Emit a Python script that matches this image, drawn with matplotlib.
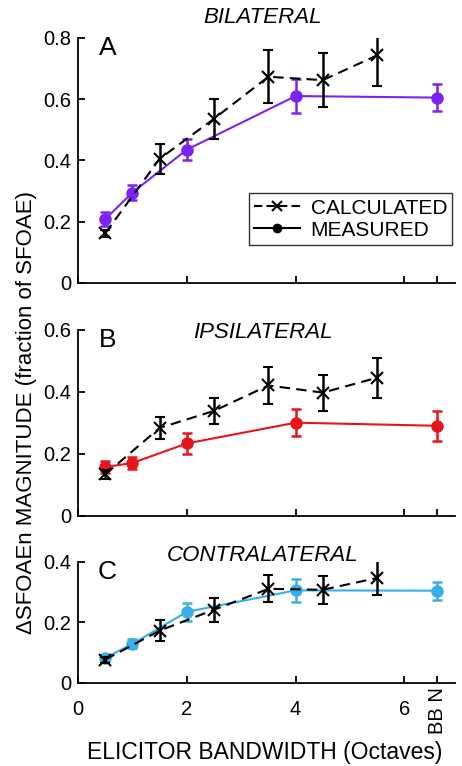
import matplotlib.pyplot as plt
from matplotlib.lines import Line2D

plt.rcParams['font.family'] = ['Liberation Sans', 'DejaVu Sans']

BBN = 6.6

# calculated (black, dashed)
calc_x = [0.5, 1.5, 2.5, 3.5, 4.5, 5.5]
calc_bi = [0.162, 0.405, 0.536, 0.673, 0.662, 0.743]
calc_bi_err = [0.012, 0.05, 0.065, 0.087, 0.087, 0.1]
calc_ip = [0.134, 0.284, 0.339, 0.421, 0.398, 0.446]
calc_ip_err = [0.015, 0.035, 0.042, 0.06, 0.058, 0.065]
calc_co = [0.077, 0.173, 0.242, 0.311, 0.308, 0.347]
calc_co_err = [0.01, 0.034, 0.04, 0.045, 0.047, 0.055]

# measured (coloured, solid)
meas_x = [0.5, 1.0, 2.0, 4.0, BBN]
meas_bi = [0.208, 0.295, 0.435, 0.610, 0.605]
meas_bi_err = [0.022, 0.025, 0.035, 0.055, 0.043]
meas_ip = [0.158, 0.171, 0.234, 0.301, 0.291]
meas_ip_err = [0.02, 0.02, 0.033, 0.044, 0.048]
meas_co = [0.083, 0.129, 0.235, 0.306, 0.305]
meas_co_err = [0.01, 0.015, 0.03, 0.038, 0.03]

panels = [
    ('A', 'BILATERAL', calc_bi, calc_bi_err, meas_bi, meas_bi_err, '#7b22f5',
     [0.1688, 0.6306, 0.816, 0.320], 0.8, [0, 0.2, 0.4, 0.6, 0.8], 15),
    ('B', 'IPSILATERAL', calc_ip, calc_ip_err, meas_ip, meas_ip_err, '#e8141b',
     [0.1688, 0.3264, 0.816, 0.2428], 0.6, [0, 0.2, 0.4, 0.6], -2),
    ('C', 'CONTRALATERAL', calc_co, calc_co_err, meas_co, meas_co_err, '#3aaee8',
     [0.1688, 0.1084, 0.816, 0.158], 0.4, [0, 0.2, 0.4], 4.5),
]

fig = plt.figure(figsize=(4.62, 7.66), dpi=100)

for letter, title, cy, ce, my, me, col, rect, ymax, yt, toff in panels:
    ax = fig.add_axes(rect)
    ax.errorbar(meas_x, my, yerr=me, color=col, ecolor=col, lw=1.5, elinewidth=1.8,
                capsize=3.5, capthick=1.8, marker='o', ms=8, zorder=3)
    ax.errorbar(calc_x, cy, yerr=ce, color='black', lw=1.5, ls=(0, (5, 3)),
                elinewidth=1.8, capsize=3.5, capthick=1.8, marker='x', ms=8,
                mew=1.5, zorder=4)
    ax.set_xlim(0, 6.93)
    ax.set_ylim(0, ymax)
    ax.set_yticks(yt)
    ax.set_yticklabels(['0' if v == 0 else f'{v:.1f}' for v in yt])
    ax.set_xticks([0, 2, 4, 6, BBN])
    ax.spines['top'].set_visible(False)
    ax.spines['right'].set_visible(False)
    ax.spines['left'].set_linewidth(1.3)
    ax.spines['bottom'].set_linewidth(1.3)
    ax.tick_params(direction='in', length=5, width=1.3, labelsize=14.5)
    ax.tick_params(axis='y', pad=5)
    ax.tick_params(axis='x', pad=12)
    if letter == 'C':
        ax.set_xticklabels(['0', '2', '4', '6', ''])
        ax.annotate('BB N', (BBN, 0), xycoords=('data', 'axes fraction'),
                    xytext=(0, -3), textcoords='offset points', rotation=90,
                    fontsize=14.5, ha='center', va='top')
    else:
        ax.set_xticklabels([])
    ax.annotate(letter, (0.078, 1.0), xycoords='axes fraction', xytext=(0, -7),
                textcoords='offset points', fontsize=19, ha='center', va='center')
    ax.annotate(title, (0.49, 1.0), xycoords='axes fraction', xytext=(0, toff),
                textcoords='offset points', fontsize=16, style='italic',
                ha='center', va='center')
    if letter == 'A':
        h = [Line2D([], [], color='black', ls=(0, (4, 2)), marker='x', ms=7, mew=1.5, lw=1.5),
             Line2D([], [], color='black', ls='-', marker='o', ms=6, lw=1.5)]
        leg = ax.legend(h, ['CALCULATED', 'MEASURED'], loc='lower right',
                        bbox_to_anchor=(0.993, 0.155), fontsize=15, frameon=True,
                        fancybox=False, edgecolor='black', handlelength=2.2,
                        borderpad=0.25, labelspacing=0.15, handletextpad=0.5,
                        borderaxespad=0)
        leg.get_frame().set_linewidth(1.0)

fig.text(0.057, 1 - 412 / 766, '\u0394SFOAEn MAGNITUDE (fraction of SFOAE)',
         rotation=90, ha='center', va='center', fontsize=16)
fig.text(265 / 462, 1 - 752 / 766, 'ELICITOR BANDWIDTH (Octaves)',
         ha='center', va='center', fontsize=16.5)

fig.savefig('out.png', dpi=100)
